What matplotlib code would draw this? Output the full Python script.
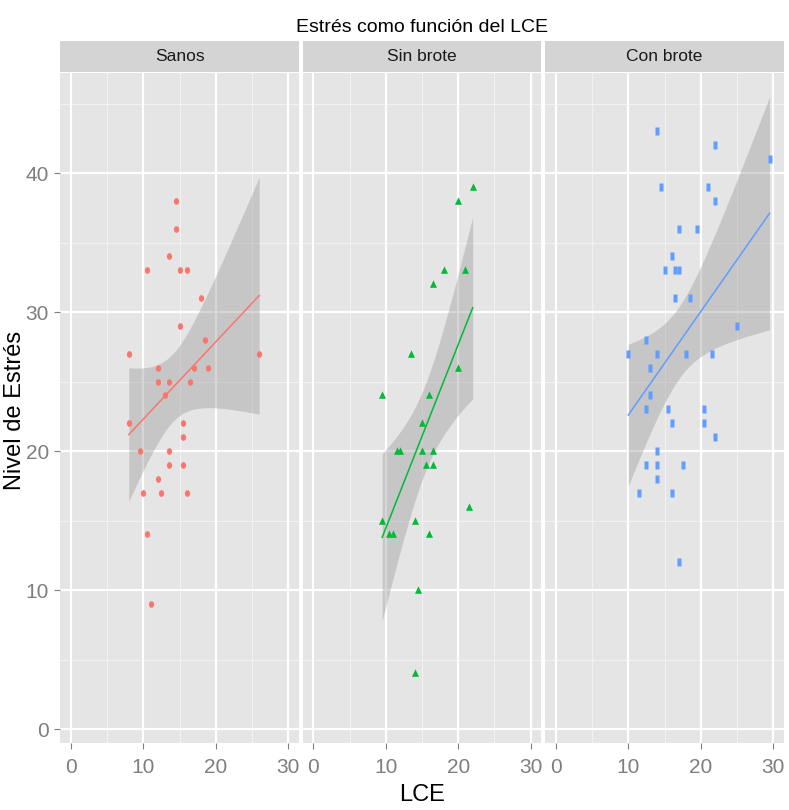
import numpy as np
import matplotlib
matplotlib.use("Agg")
import matplotlib.pyplot as plt
from matplotlib.path import Path
from matplotlib.patches import Rectangle

# datos
grupos = ["Sanos", "Sin brote", "Con brote"]

lce_sanos = [14.5, 14.5, 13.5, 10.5, 15, 16, 18, 15, 18.5, 8, 26, 12, 17, 19, 12, 13.5,
             16.5, 13, 8, 15.5, 15.5, 9.5, 13.5, 13.5, 15.5, 12, 10, 12.5, 16, 10.5, 11]
estres_sanos = [38, 36, 34, 33, 33, 33, 31, 29, 28, 27, 27, 26, 26, 26, 25, 25,
                25, 24, 22, 22, 21, 20, 20, 19, 19, 18, 17, 17, 17, 14, 9]

lce_sin = [22, 20, 18, 21, 16.5, 13.5, 20, 9.5, 16, 15, 11.5, 12, 15, 16.5, 15.5, 16.5,
           21.5, 9.5, 14, 10.5, 11, 16, 14.5, 14]
estres_sin = [39, 38, 33, 33, 32, 27, 26, 24, 24, 22, 20, 20, 20, 20, 19, 19,
              16, 15, 15, 14, 14, 14, 10, 4]

lce_con = [14, 22, 29.5, 14.5, 21, 22, 17, 19.5, 16, 15, 16.5, 17, 16.5, 18.5, 25, 12.5,
           10, 14, 18, 21.5, 13, 13, 12.5, 15.5, 20.5, 16, 20.5, 22, 14, 12.5, 14, 17.5,
           14, 11.5, 16, 17]
estres_con = [43, 42, 41, 39, 39, 38, 36, 36, 34, 33, 33, 33, 31, 31, 29, 28,
              27, 27, 27, 27, 26, 24, 23, 23, 23, 22, 22, 21, 20, 19, 19, 19,
              18, 17, 17, 12]

datos_x = [lce_sanos, lce_sin, lce_con]
datos_y = [estres_sanos, estres_sin, estres_con]
colores = ["#F8766D", "#00BA38", "#619CFF"]

x_ticks = [0, 10, 20, 30]
y_ticks = [0, 10, 20, 30, 40]

# marcadores algo estrechos (la imagen original esta comprimida en horizontal)
t = np.linspace(0, 2 * np.pi, 40)
m_circulo = Path(np.column_stack([0.78 * np.cos(t), np.sin(t)]))
m_triangulo = Path([(-0.8, -0.75), (0.8, -0.75), (0, 0.95), (-0.8, -0.75)])
m_cuadrado = Path([(-0.6, -1), (0.6, -1), (0.6, 1), (-0.6, 1), (-0.6, -1)])
marcadores = [(m_circulo, 4.8), (m_triangulo, 6.0), (m_cuadrado, 5.2)]

plt.rcParams["font.family"] = ["Liberation Sans", "DejaVu Sans"]

gris_tick = "#7F7F7F"


def t975(df):
    # aproximacion del cuantil 0.975 de la t de Student
    z = 1.959964
    return z + (z**3 + z) / (4 * df) + (5 * z**5 + 16 * z**3 + 3 * z) / (96 * df**2)


def ajuste(x, y):
    x = np.array(x, dtype=float)
    y = np.array(y, dtype=float)
    n = len(x)
    b, a = np.polyfit(x, y, 1)
    res = y - (a + b * x)
    s = np.sqrt(np.sum(res**2) / (n - 2))
    xs = np.linspace(x.min(), x.max(), 80)
    ys = a + b * xs
    se = s * np.sqrt(1.0 / n + (xs - x.mean())**2 / np.sum((x - x.mean())**2))
    w = t975(n - 2) * se
    return xs, ys, ys - w, ys + w


W, H = 789, 810
fig = plt.figure(figsize=(W / 100, H / 100), dpi=100)

izq, ancho, hueco = 60, 239, 3.5
abajo, arriba = 743, 73

for i in range(3):
    x0 = izq + i * (ancho + hueco)
    ax = fig.add_axes([x0 / W, 1 - abajo / H, ancho / W, (abajo - arriba) / H])
    ax.set_facecolor("#E5E5E5")
    for s in ax.spines.values():
        s.set_visible(False)
    ax.set_xlim(-1.5, 31.5)
    ax.set_ylim(-1.0, 47.2)

    # rejilla
    for v in [5, 15, 25]:
        ax.axvline(v, color="#F2F2F2", lw=0.8, zorder=0)
    for v in [5, 15, 25, 35, 45]:
        ax.axhline(v, color="#F2F2F2", lw=0.8, zorder=0)
    for v in x_ticks:
        ax.axvline(v, color="white", lw=1.6, zorder=0)
    for v in y_ticks:
        ax.axhline(v, color="white", lw=1.6, zorder=0)

    xs, ys, lo, hi = ajuste(datos_x[i], datos_y[i])
    ax.fill_between(xs, lo, hi, color="#999999", alpha=0.4, lw=0, zorder=1)
    ax.plot(xs, ys, color=colores[i], lw=1.1, zorder=2)
    mk, ms = marcadores[i]
    ax.plot(datos_x[i], datos_y[i], ls="none", marker=mk, ms=ms,
            color=colores[i], mec="none", zorder=3)

    ax.set_xticks(x_ticks)
    ax.set_xticklabels([str(v) for v in x_ticks])
    ax.tick_params(axis="x", length=4, width=0.8, color=gris_tick,
                   labelcolor=gris_tick, labelsize=15, pad=7)
    ax.set_yticks(y_ticks)
    if i == 0:
        ax.set_yticklabels([str(v) for v in y_ticks])
        ax.tick_params(axis="y", length=4, width=0.8, color=gris_tick,
                       labelcolor=gris_tick, labelsize=15, pad=4)
    else:
        ax.tick_params(axis="y", length=0, labelleft=False)

    # cabecera del panel
    alto = 31 / (abajo - arriba)
    ax.add_patch(Rectangle((0, 1.0015), 1, alto, transform=ax.transAxes,
                           facecolor="#D4D4D4", edgecolor="none", clip_on=False))
    ax.text(0.5, 1.0015 + alto / 2, grupos[i], transform=ax.transAxes,
            ha="center", va="center", fontsize=12.5, color="#1A1A1A")

centro = (izq + (3 * ancho + 2 * hueco) / 2) / W
fig.text(centro, 1 - 27 / H, "Estrés como función del LCE", ha="center",
         va="center", fontsize=14, color="black")
fig.text(centro, 1 - 795 / H, "LCE", ha="center", va="center", fontsize=17,
         color="black")
fig.text(15 / W, 1 - 410 / H, "Nivel de Estrés", rotation=90, ha="center",
         va="center", fontsize=17, color="black")

fig.savefig("out.png", dpi=100, facecolor="white")
